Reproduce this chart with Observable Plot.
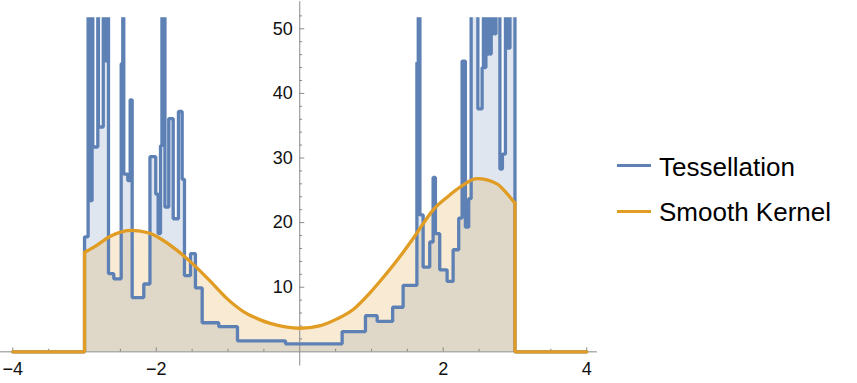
<!DOCTYPE html>
<html>
<head>
<meta charset="utf-8">
<script src="https://cdn.jsdelivr.net/npm/d3@7"></script>
<script src="https://cdn.jsdelivr.net/npm/@observablehq/plot@0.6"></script>
<style>
  html, body { margin: 0; padding: 0; background: #fff; }
  #chart { position: relative; width: 857px; height: 383px; font-family: "Liberation Sans", Arial, Helvetica, sans-serif; }
  #chart svg { position: absolute; left: 0; top: 0; }
  .sw { position: absolute; height: 3px; width: 34px; left: 617px; }
  .lt { position: absolute; left: 659px; font-size: 26px; line-height: 30px; color: #000; white-space: nowrap; }
</style>
</head>
<body>
<div id="chart"></div>
<script>
// ---- data ----
const seriesNames = ["Tessellation", "Smooth Kernel"];

// Tessellation (step function): breakpoints and values (values above the plot range are clipped)
const tessX = [-4, -3.000, -2.950, -2.940, -2.895, -2.885, -2.815, -2.806, -2.739, -2.704, -2.676, -2.666, -2.592,
  -2.489, -2.467, -2.453, -2.397, -2.364, -2.336, -2.174, -2.088, -2.007, -1.974, -1.941, -1.921, -1.879, -1.826,
  -1.764, -1.691, -1.639, -1.607, -1.523, -1.454, -1.360, -1.129, -0.868, -0.199, 0.591, 0.916, 1.079, 1.295, 1.441,
  1.633, 1.652, 1.675, 1.720, 1.812, 1.859, 1.891, 1.951, 2.054, 2.138, 2.216, 2.263, 2.309, 2.355, 2.389,
  2.483, 2.542, 2.560, 2.578, 2.595, 2.617, 2.635, 2.652, 2.669, 2.685, 2.702, 2.719, 2.735, 2.790, 2.825,
  2.867, 2.888, 2.902, 2.916, 2.930, 3.000, 4];
const tessY = [0, 17.8, 60, 23.4, 60, 31.7, 60, 34.8, 60, 45, 60, 12.1, 11.3,
  44.6, 60, 27.5, 26.5, 39.0, 8.4, 10.5, 30.2, 24.4, 18.3, 31.9, 60, 22.4, 36.1,
  20.6, 37.2, 26.7, 11.8, 15.2, 9.9, 4.5, 3.9, 1.7, 1.24, 3.14, 5.6, 4.7, 6.9, 10.3,
  44.8, 60, 21.2, 13.1, 17.0, 27.0, 18.3, 12.7, 10.9, 15.8, 20.7, 45.0, 19.3, 23.7, 60,
  37.6, 44, 60, 44, 60, 46.1, 60, 46.1, 60, 49.2, 60, 49.2, 60, 28.3, 30.6,
  60, 47, 60, 47, 60, 0, 0];

// Smooth kernel density (support -3..3, zero outside)
const kernelX = [-3, -2.87, -2.64, -2.34, -2.1, -1.94, -1.71, -1.48, -1.245, -1.01, -0.78, -0.55, -0.41, -0.2, 0,
  0.29, 0.52, 0.75, 0.985, 1.125, 1.40, 1.59, 1.87, 2.05, 2.25, 2.47, 2.75, 2.88, 3];
const kernelY = [15.4, 16.2, 17.9, 18.8, 18.4, 17.5, 15.7, 13.5, 10.9, 8.2, 6.2, 4.95, 4.4, 3.85, 3.65,
  4.07, 5.1, 6.6, 9.2, 11.0, 14.8, 17.7, 22.1, 23.9, 25.6, 26.8, 26.0, 24.6, 23.0];
const plotRangeX = [-4, 4];

// ticks
const xTickValues = [-4, -2, 2, 4];
const xTickLabels = ["\u22124", "\u22122", "2", "4"];
const yTickValues = [10, 20, 30, 40, 50];
const yTickLabels = ["10", "20", "30", "40", "50"];

// ---- styles ----
const blue = "#5E81B5", orange = "#E19C24", axisColor = "#8a8a8a";

const tess = tessX.map((x, i) => ({x, y: tessY[i]}));
const kernel = kernelX.map((x, i) => ({x, y: kernelY[i]}));
const kLast = kernel.length - 1;
const kernelOuter = [
  {x: plotRangeX[0], y: 0, s: "L"}, {x: kernelX[0], y: 0, s: "L"}, {x: kernelX[0], y: kernelY[0], s: "L"},
  {x: kernelX[kLast], y: kernelY[kLast], s: "R"}, {x: kernelX[kLast], y: 0, s: "R"}, {x: plotRangeX[1], y: 0, s: "R"}
];
const xMinor = d3.range(-4, 4.001, 0.5).filter(v => v !== 0 && !xTickValues.includes(v));
const yMinor = d3.range(2, 53, 2).filter(v => !yTickValues.includes(v));
const xTicks = xTickValues.map((v, i) => ({v, label: xTickLabels[i]}));
const yTicks = yTickValues.map((v, i) => ({v, label: yTickLabels[i]}));

const chart = Plot.plot({
  width: 857, height: 383,
  marginLeft: 0, marginRight: 258.5, marginTop: 17.3, marginBottom: 0,
  x: {domain: [-4.1714, 4.1714], axis: null},
  y: {domain: [-4.9, 51.7], axis: null},
  style: {fontFamily: "'Liberation Sans', Arial, Helvetica, sans-serif", background: "transparent", overflow: "visible"},
  marks: [
    Plot.areaY(tess, {x: "x", y: "y", curve: "step-after", fill: blue, fillOpacity: 0.2, clip: true}),
    Plot.areaY(kernel, {x: "x", y: "y", curve: "monotone-x", fill: orange, fillOpacity: 0.2, clip: true}),
    // axes
    Plot.ruleY([0], {x1: -4.17, x2: 4.15, stroke: axisColor, strokeWidth: 1}),
    Plot.ruleX([0], {y1: -2.2, y2: 54.2, stroke: axisColor, strokeWidth: 1}),
    Plot.ruleX(xTickValues, {x: d => d, y1: 0, y2: 0.62, stroke: axisColor}),
    Plot.ruleX(xMinor, {x: d => d, y1: 0, y2: 0.4, stroke: axisColor}),
    Plot.ruleY(yTickValues, {y: d => d, x1: 0, x2: 0.07, stroke: axisColor}),
    Plot.ruleY(yMinor, {y: d => d, x1: 0, x2: 0.04, stroke: axisColor}),
    // series lines
    Plot.line(tess, {x: "x", y: "y", curve: "step-after", stroke: blue, strokeWidth: 3.3, strokeLinejoin: "miter", clip: true}),
    Plot.line(kernel, {x: "x", y: "y", curve: "monotone-x", stroke: orange, strokeWidth: 3.3, clip: true}),
    Plot.line(kernelOuter, {x: "x", y: "y", z: "s", stroke: orange, strokeWidth: 3.3, strokeLinejoin: "miter"}),
    // tick labels
    Plot.text(xTicks, {x: "v", y: 0, text: "label", dy: 17, fontSize: 18, fill: "#111", textAnchor: "middle"}),
    Plot.text(yTicks, {x: 0, y: "v", text: "label", dx: -7, fontSize: 18, fill: "#111", textAnchor: "end"})
  ]
});

const root = document.getElementById("chart");
root.appendChild(chart);

const legendRows = [
  {name: seriesNames[0], color: blue, swTop: 164.3, textTop: 151.5},
  {name: seriesNames[1], color: orange, swTop: 209.5, textTop: 197}
];
for (const r of legendRows) {
  const sw = document.createElement("div");
  sw.className = "sw"; sw.style.top = r.swTop + "px"; sw.style.background = r.color;
  root.appendChild(sw);
  const t = document.createElement("div");
  t.className = "lt"; t.style.top = r.textTop + "px"; t.textContent = r.name;
  root.appendChild(t);
}
</script>
</body>
</html>
